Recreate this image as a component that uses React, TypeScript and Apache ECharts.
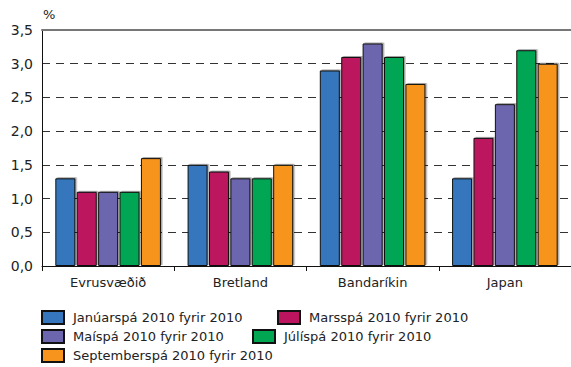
import React, { useEffect, useRef } from "react";
import * as echarts from "echarts";

const categories = ["Evrusvæðið", "Bretland", "Bandaríkin", "Japan"];
const seriesNames = [
  "Janúarspá 2010 fyrir 2010",
  "Marsspá 2010 fyrir 2010",
  "Maíspá 2010 fyrir 2010",
  "Júlíspá 2010 fyrir 2010",
  "Septemberspá 2010 fyrir 2010",
];
const janValues = [1.3, 1.5, 2.9, 1.3];
const marValues = [1.1, 1.4, 3.1, 1.9];
const mayValues = [1.1, 1.3, 3.3, 2.4];
const julValues = [1.1, 1.3, 3.1, 3.2];
const sepValues = [1.6, 1.5, 2.7, 3.0];
const seriesColors = ["#3576BC", "#BC145E", "#6C66AE", "#00A652", "#F7941E"];
const yTicks = [0, 0.5, 1, 1.5, 2, 2.5, 3, 3.5];

const FONT = "DejaVu Sans";

export default function App() {
  const ref = useRef<HTMLDivElement>(null);
  useEffect(() => {
    const chart = echarts.init(ref.current!, null, { renderer: "svg" });
    const values = [janValues, marValues, mayValues, julValues, sepValues];
    const legendPos = [
      { left: 41, top: 310 },
      { left: 277, top: 310 },
      { left: 41, top: 329 },
      { left: 252, top: 329 },
      { left: 41, top: 348 },
    ];
    chart.setOption({
      animation: false,
      textStyle: { fontFamily: FONT },
      grid: { left: 42, top: 30, width: 532, bottom: 101 },
      legend: seriesNames.map((n, i) => ({
        data: [n],
        left: legendPos[i].left,
        top: legendPos[i].top,
        icon: "rect",
        itemWidth: 22,
        itemHeight: 13,
        padding: 0,
        selectedMode: false,
        textStyle: { fontFamily: FONT, fontSize: 13, color: "#222", padding: [0, 0, 0, 4] },
      })),
      xAxis: [
        {
          type: "category",
          data: categories,
          axisLine: { lineStyle: { color: "#111", width: 1 } },
          axisTick: { show: true, length: 5, lineStyle: { color: "#111" } },
          axisLabel: { fontFamily: FONT, fontSize: 13, color: "#222", margin: 10 },
        },
        {
          type: "category",
          data: categories,
          position: "top",
          axisLine: { lineStyle: { color: "#777", width: 2 } },
          axisTick: { show: false },
          axisLabel: { show: false },
        },
      ],
      yAxis: {
        type: "value",
        min: 0,
        max: 3.5,
        interval: 0.5,
        axisLine: { show: true, lineStyle: { color: "#111", width: 1 } },
        axisTick: { show: false },
        axisLabel: {
          fontFamily: FONT,
          fontSize: 14,
          color: "#222",
          margin: 9,
          formatter: (v: number) => (yTicks.includes(v) ? v.toFixed(1).replace(".", ",") : ""),
        },
        splitLine: { lineStyle: { color: "#333", type: [8, 6], width: 1 } },
      },
      graphic: [
        {
          type: "text",
          left: 43,
          top: 8,
          style: { text: "%", font: `13px "${FONT}"`, fill: "#222" },
        },
      ],
      series: seriesNames.map((n, i) => ({
        type: "bar",
        name: n,
        data: values[i],
        barWidth: 20,
        barGap: "7%",
        itemStyle: {
          color: seriesColors[i],
          borderColor: "#111",
          borderWidth: 1,
          shadowColor: "rgba(0,0,0,0.35)",
          shadowOffsetX: 1.5,
          shadowOffsetY: -1,
          shadowBlur: 1,
        },
      })),
    });
    return () => chart.dispose();
  }, []);
  return (
    <div
      ref={ref}
      style={{ position: "fixed", left: 0, top: 0, width: 571, height: 367, background: "#fff" }}
    />
  );
}
